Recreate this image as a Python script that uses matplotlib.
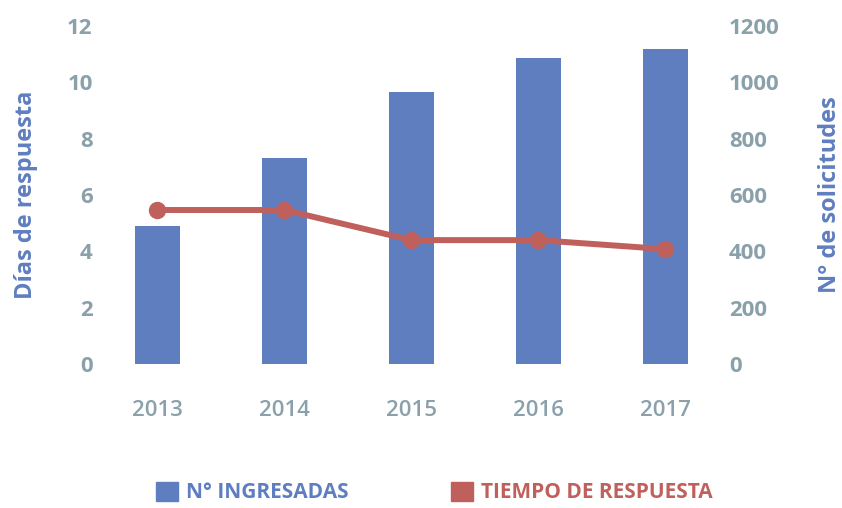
import matplotlib
matplotlib.use('Agg')
import matplotlib.pyplot as plt
from matplotlib.patches import Patch
import numpy as np

plt.rcParams['font.family'] = ['Open Sans', 'DejaVu Sans']

years = ['2013', '2014', '2015', '2016', '2017']
ingresadas = [490, 731, 966, 1086, 1118]
dias_respuesta = [5.47, 5.47, 4.40, 4.40, 4.08]

BLUE = '#5f7ec0'
RED = '#c0605c'
GRAY = '#8aa0aa'

fig = plt.figure(figsize=(8.42, 5.08), dpi=100)
ax = fig.add_axes([0.1116, 0.2835, 0.754, 0.665])
ax2 = ax.twinx()

x = np.arange(len(years))
ax2.bar(x, ingresadas, width=0.355, color=BLUE, zorder=1)
ax2.set_ylim(0, 1200)
ax2.set_yticks(range(0, 1201, 200))

# linea encima de las barras
ax.set_zorder(ax2.get_zorder() + 1)
ax.patch.set_visible(False)
ax.plot(x, dias_respuesta, color=RED, linewidth=4.3, marker='o', markersize=11.5, zorder=3)
ax.set_ylim(0, 12)
ax.set_yticks(range(0, 13, 2))
ax.set_xlim(-0.5, 4.5)
ax.set_xticks(x)
ax.set_xticklabels(years)

for a in (ax, ax2):
    for s in a.spines.values():
        s.set_visible(False)
    a.tick_params(length=0)

ax.tick_params(axis='y', labelsize=16, labelcolor=GRAY, pad=1)
ax.tick_params(axis='x', labelsize=16, labelcolor=GRAY, pad=26)
ax2.tick_params(axis='y', labelsize=16, labelcolor=GRAY, pad=0)
for lab in ax.get_yticklabels() + ax2.get_yticklabels():
    lab.set_fontweight('bold')
for lab in ax.get_xticklabels():
    lab.set_fontweight('semibold')

ax.set_ylabel('Días de respuesta', fontsize=17, fontweight='bold', color=BLUE, labelpad=21)
ax2.set_ylabel('N° de solicitudes', fontsize=17, fontweight='bold', color=BLUE, labelpad=28)

handles = [Patch(color=BLUE), Patch(color=RED)]
leg = fig.legend(handles, ['N° INGRESADAS', 'TIEMPO DE RESPUESTA'], ncol=2,
                 loc='lower center', bbox_to_anchor=(0.516, -0.028), frameon=False,
                 handlelength=1.05, handleheight=1.05, columnspacing=4.9, handletextpad=0.4,
                 prop={'size': 15, 'weight': 'bold'}, labelcolor=[BLUE, RED])

fig.savefig('out.png', dpi=100, facecolor='white')
